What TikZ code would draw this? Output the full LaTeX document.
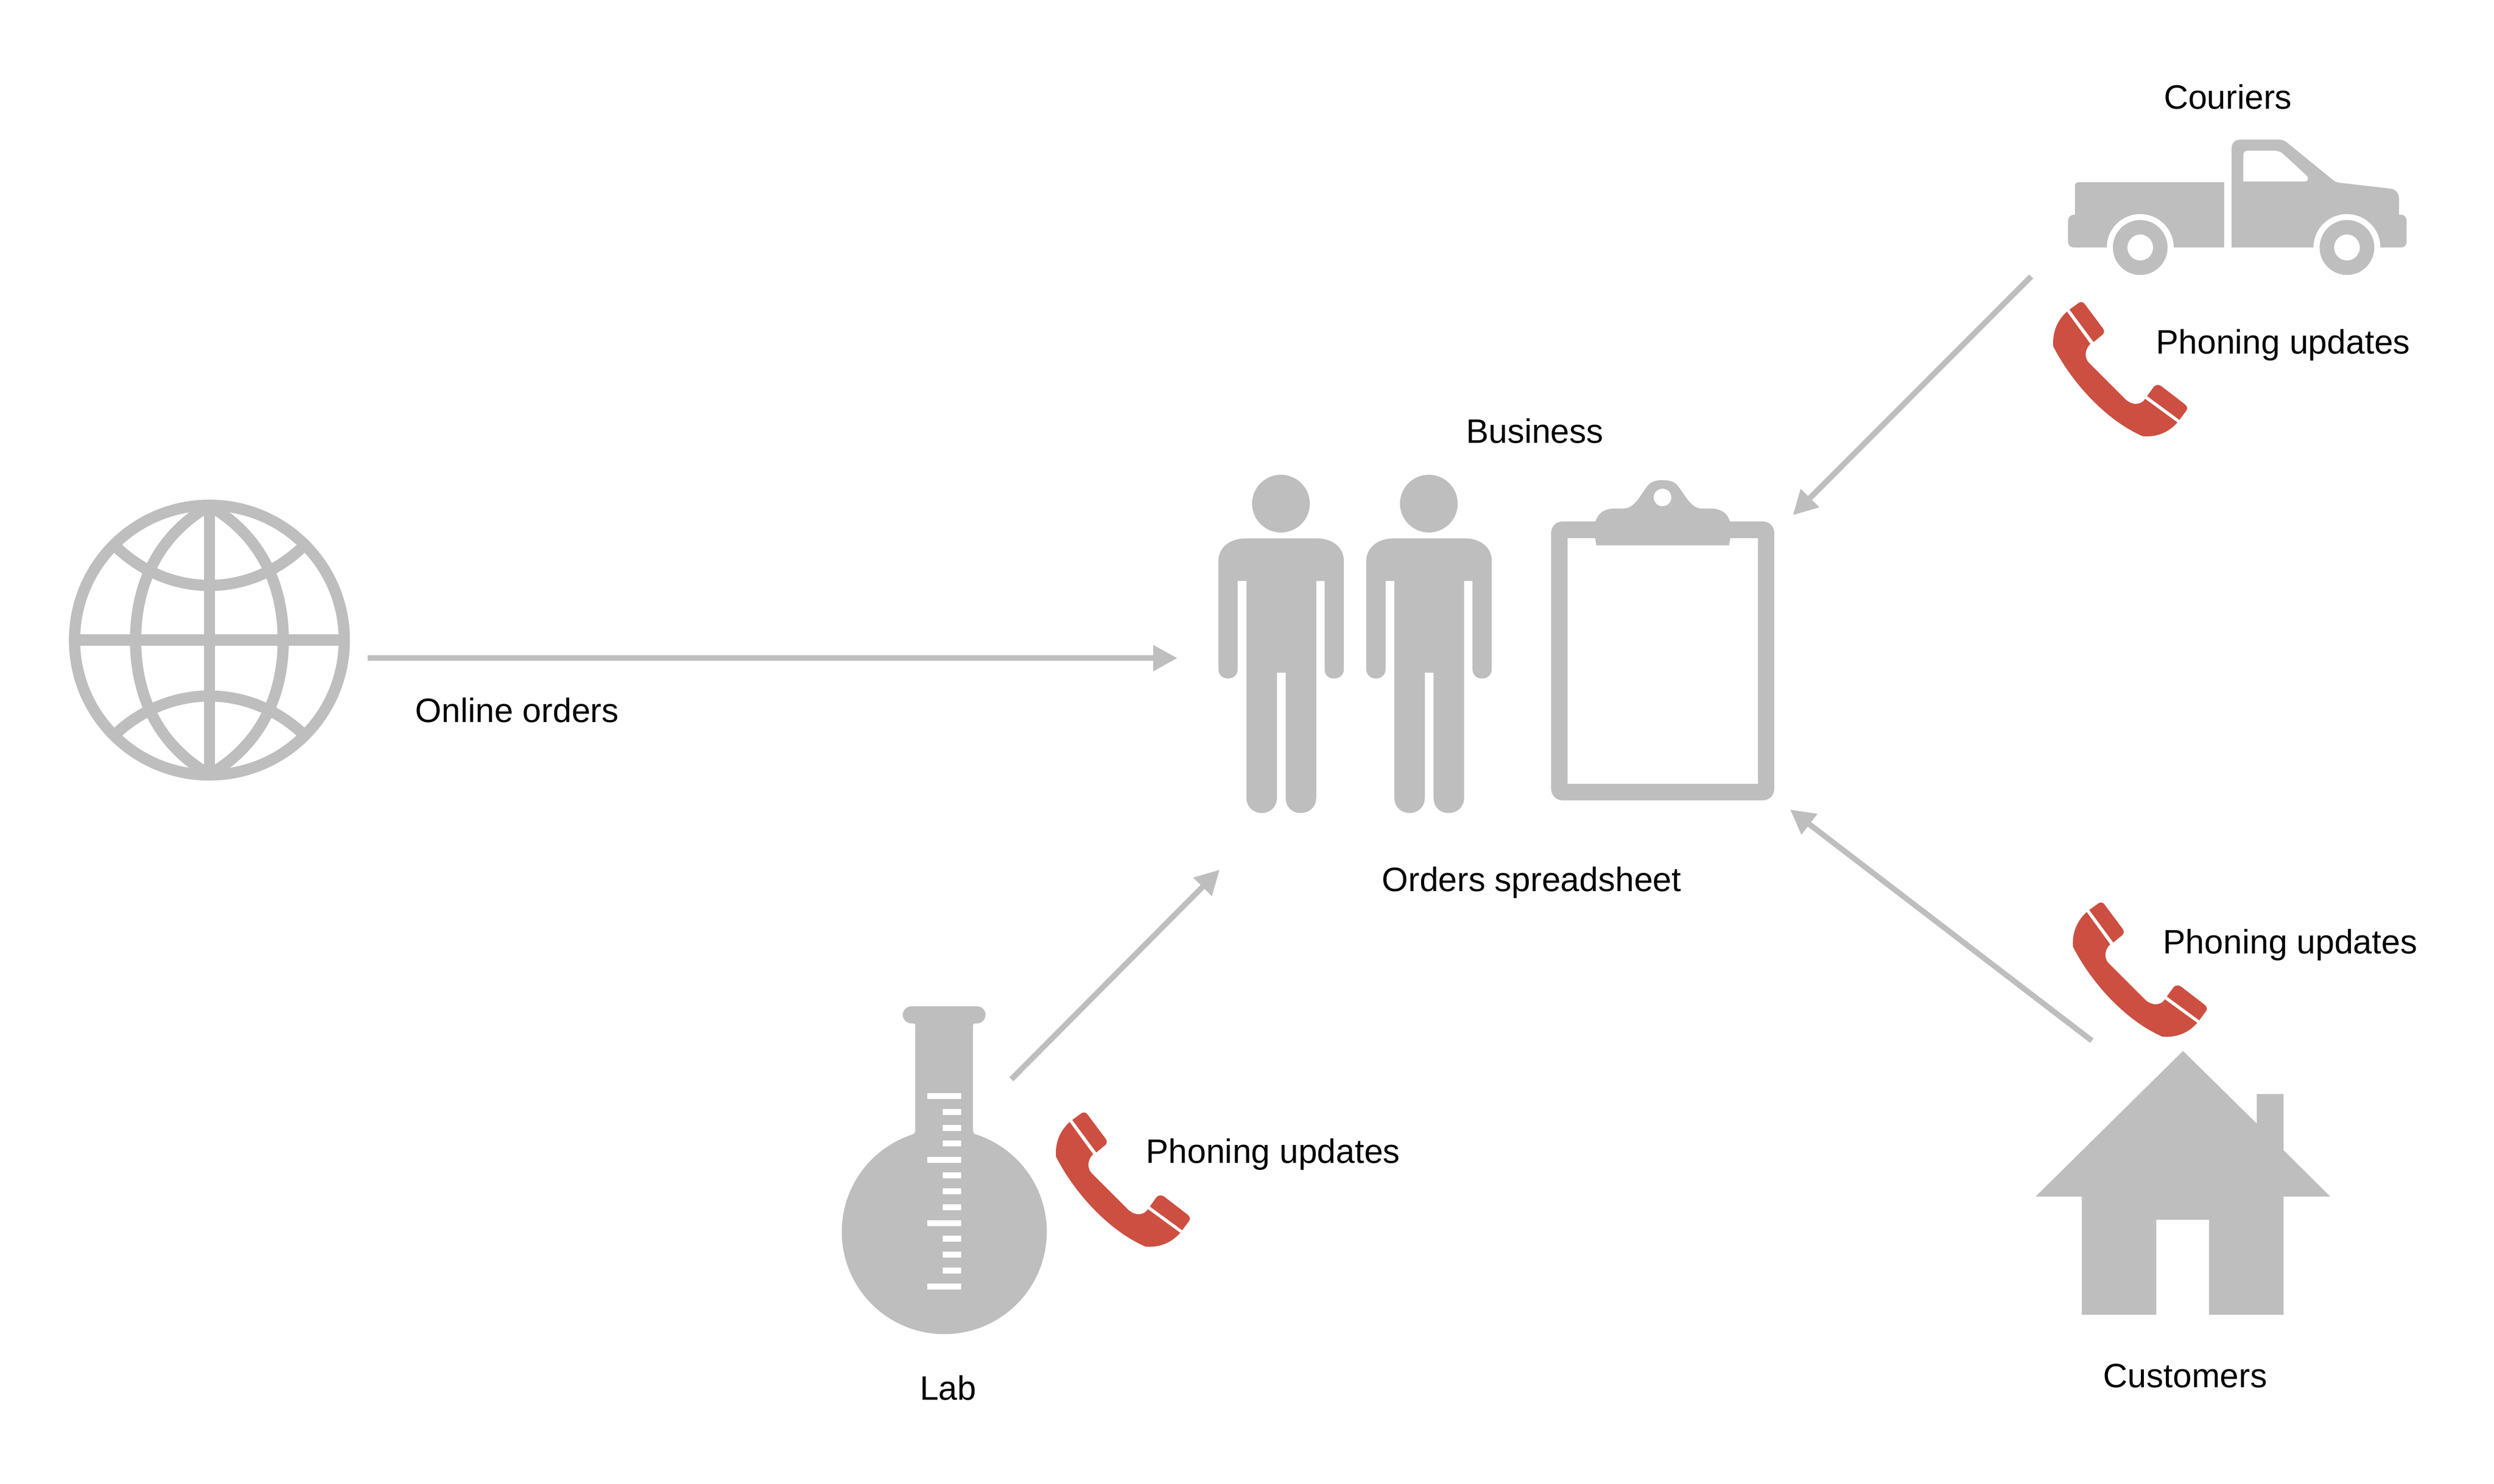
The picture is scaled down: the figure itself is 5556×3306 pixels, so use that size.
\documentclass[tikz,border=0pt]{standalone}
\usepackage{fontspec}
\setmainfont{Liberation Sans}
\usetikzlibrary{arrows.meta}
\definecolor{icongray}{HTML}{BEBEBE}
\definecolor{phonered}{HTML}{CC4F41}
\tikzset{
  lbl/.style={font=\fontsize{21.45}{25}\selectfont,text=black,inner sep=0pt,anchor=base},
  flow/.style={draw=icongray,line width=0.125cm,-{Triangle[length=0.54cm,width=0.55cm]}},
  globeline/.style={draw=icongray,line width=0.25cm},
}
\newcommand{\phoneicon}[2]{%
  \begin{scope}[shift={(#1,#2)},xscale=0.6378,yscale=0.5102]
    \fill[phonered] (164,871) -- (246,1012) .. controls (226,1035) and (222,1075) .. (245,1100)
      -- (365,1250) .. controls (392,1285) and (425,1278) .. (437,1252) -- (550,1355)
      .. controls (515,1405) and (470,1420) .. (428,1415)
      .. controls (300,1345) and (180,1180) .. (116,1022)
      .. controls (113,960) and (130,910) .. (164,871) -- cycle;
    \fill[phonered] (173,862) -- (205,833) .. controls (213,826) and (222,830) .. (226,838)
      -- (290,945) .. controls (297,958) and (292,968) .. (288,972) -- (257,1004) -- cycle;
    \fill[phonered] (444,1240) -- (467,1200) .. controls (474,1188) and (488,1190) .. (495,1198)
      -- (575,1275) .. controls (587,1288) and (585,1298) .. (580,1305) -- (557,1344) -- cycle;
  \end{scope}}
\newcommand{\personicon}[1]{%
  \begin{scope}[shift={(#1,0)}]
    \fill[icongray] (228,213) ellipse (72 and 112);
    \fill[icongray] (72,435) .. controls (72,385) and (100,348) .. (140,348) -- (318,348)
      .. controls (358,348) and (385,385) .. (385,435) -- (385,855)
      .. controls (385,880) and (372,892) .. (361,892) .. controls (348,892) and (337,880) .. (337,855)
      -- (337,513) -- (316,513) -- (316,1355)
      .. controls (316,1392) and (298,1414) .. (277,1414) .. controls (256,1414) and (240,1392) .. (240,1355)
      -- (240,869) -- (218,869) -- (218,1355)
      .. controls (218,1392) and (200,1414) .. (180,1414) .. controls (160,1414) and (142,1392) .. (142,1355)
      -- (142,513) -- (120,513) -- (120,855)
      .. controls (120,880) and (108,892) .. (96,892) .. controls (84,892) and (72,880) .. (72,855) -- cycle;
  \end{scope}}
\begin{document}
\begin{tikzpicture}[x=0.01cm,y=-0.01cm]
\useasboundingbox (0,0) rectangle (5556,3306);
\fill[white] (0,0) rectangle (5556,3306);

% globe
\draw[globeline] (466.5,1426.4) circle (300.5);
\draw[globeline] (466.5,1126) -- (466.5,1727);
\draw[globeline] (166,1426.4) -- (767,1426.4);
\draw[globeline] (466.5,1127) .. controls (340,1200) and (302,1320) .. (302,1426.4)
  .. controls (302,1533) and (340,1653) .. (466.5,1726);
\draw[globeline] (466.5,1127) .. controls (593,1200) and (631,1320) .. (631,1426.4)
  .. controls (631,1533) and (593,1653) .. (466.5,1726);
\draw[globeline] (254,1214) .. controls (310,1270) and (385,1304.6) .. (466.5,1304.6)
  .. controls (548,1304.6) and (623,1270) .. (679,1214);
\draw[globeline] (254,1639) .. controls (310,1585) and (385,1551) .. (466.5,1551)
  .. controls (548,1551) and (623,1585) .. (679,1639);

% people and clipboard
\begin{scope}[shift={(2650,1000)},xscale=0.8929,yscale=0.574]
  \personicon{0}
  \personicon{369}
  \fill[icongray,even odd rule]
    (902,330) .. controls (902,300) and (915,282) .. (932,282) -- (1429,282)
    .. controls (1446,282) and (1459,300) .. (1459,330) -- (1459,1317)
    .. controls (1459,1347) and (1446,1365) .. (1429,1365) -- (932,1365)
    .. controls (915,1365) and (902,1347) .. (902,1317) -- cycle
    (943,347) rectangle (1418,1301);
  \fill[icongray] (1015,375) -- (1010,330) -- (1013,282)
    .. controls (1020,245) and (1040,232) .. (1060,232) -- (1085,232)
    .. controls (1110,230) and (1125,180) .. (1140,150)
    .. controls (1150,125) and (1165,122) .. (1180,122)
    .. controls (1196,122) and (1211,125) .. (1221,150)
    .. controls (1236,180) and (1251,230) .. (1276,232) -- (1301,232)
    .. controls (1321,232) and (1341,245) .. (1348,282) -- (1351,330) -- (1346,375) -- cycle;
  \fill[white] (1180,189) ellipse (22 and 34);
\end{scope}

% truck
\begin{scope}[shift={(4500,250)},xscale=0.6378,yscale=0.5102]
  \fill[icongray] (192,320) .. controls (192,312) and (198,306) .. (206,306) -- (713,306) -- (713,591)
    -- (537,591) .. controls (537,510) and (485,445) .. (420,445) .. controls (355,445) and (303,510) .. (303,591)
    -- (188,591) .. controls (176,591) and (168,580) .. (168,565) -- (168,475)
    .. controls (168,460) and (176,448) .. (188,448) -- (192,448) -- cycle;
  \fill[icongray,even odd rule] (739,160) .. controls (739,135) and (750,120) .. (770,120) -- (905,120)
    .. controls (915,120) and (925,124) .. (932,132) -- (1095,298)
    .. controls (1100,303) and (1108,307) .. (1115,308) -- (1295,334)
    .. controls (1312,337) and (1324,355) .. (1324,378) -- (1324,448) -- (1332,448)
    .. controls (1342,448) and (1350,460) .. (1350,472) -- (1350,568)
    .. controls (1350,582) and (1342,591) .. (1330,591) -- (1259,591)
    .. controls (1259,510) and (1207,445) .. (1142,445) .. controls (1077,445) and (1025,510) .. (1025,591)
    -- (739,591) -- cycle
    (780,303) -- (780,185) .. controls (780,175) and (786,168) .. (795,168) -- (885,168)
    .. controls (900,168) and (910,172) .. (920,183) -- (1000,275)
    .. controls (1010,287) and (1007,303) .. (995,303) -- cycle;
  \fill[icongray,even odd rule] (420,591) ellipse (95.5 and 120) (420,591) ellipse (45 and 57);
  \fill[icongray,even odd rule] (1142,591) ellipse (95.5 and 120) (1142,591) ellipse (45 and 57);
\end{scope}

% flask
\begin{scope}[shift={(1800,2200)},xscale=0.6378,yscale=0.5102]
  \fill[icongray] (476,1068) ellipse (358 and 447);
  \fill[icongray] (362,83) -- (590,83) .. controls (607,83) and (620,100) .. (620,120)
    .. controls (620,141) and (607,158) .. (590,158) -- (584,158)
    .. controls (579,158) and (576,161) .. (576,166) -- (576,622)
    .. controls (576,635) and (582,645) .. (592,648) -- (650,680) -- (300,680) -- (360,648)
    .. controls (369,645) and (375,635) .. (375,622) -- (375,166)
    .. controls (375,161) and (372,158) .. (367,158) -- (362,158)
    .. controls (345,158) and (331,141) .. (331,120) .. controls (331,100) and (345,83) .. (362,83) -- cycle;
  \foreach \yy/\xx in {476/417,545/470,614/470,683/470,753/417,822/470,892/470,961/470,1030/417,1099/470,1168/470,1238/470,1308/417}
    \fill[white] (\xx,\yy-13) rectangle (535,\yy+13);
\end{scope}

% house
\begin{scope}[shift={(4500,2000)},xscale=0.5102,yscale=0.6378]
  \fill[icongray] (712,536) -- (1034,790) -- (1034,687) -- (1151,687) -- (1151,883) -- (1355,1045)
    -- (1151,1045) -- (1151,1458) -- (825,1458) -- (825,1126) -- (595,1126) -- (595,1458)
    -- (270,1458) -- (270,1045) -- (68,1045) -- cycle;
\end{scope}

% phones
\phoneicon{4500}{250}
\phoneicon{2278.4}{2055.8}
\phoneicon{4544}{1588}

% connectors
\coordinate (globeout) at (819,1466.5);
\coordinate (peoplein) at (2623,1466.5);
\coordinate (truckout) at (4525,616);
\coordinate (clipin) at (3994,1148);
\coordinate (houseout) at (4660,2319);
\coordinate (clipinb) at (3988,1804);
\coordinate (labout) at (2253,2405);
\coordinate (peopleinb) at (2717,1938);
\draw[flow] (globeout) -- (peoplein);
\draw[flow] (truckout) -- (clipin);
\draw[flow] (houseout) -- (clipinb);
\draw[flow] (labout) -- (peopleinb);

% labels
\node[lbl] (couriers) at (4963,243) {Couriers};
\node[lbl] (phonea) at (5086,788) {Phoning updates};
\node[lbl] (business) at (3419,987) {Business};
\node[lbl] (online) at (1152,1610) {Online orders};
\node[lbl] (orders) at (3412,1986) {Orders spreadsheet};
\node[lbl] (phoneb) at (5102,2125) {Phoning updates};
\node[lbl] (phonec) at (2836,2592) {Phoning updates};
\node[lbl] (lab) at (2112,3120) {Lab};
\node[lbl] (customers) at (4868,3092) {Customers};
\end{tikzpicture}
\end{document}
